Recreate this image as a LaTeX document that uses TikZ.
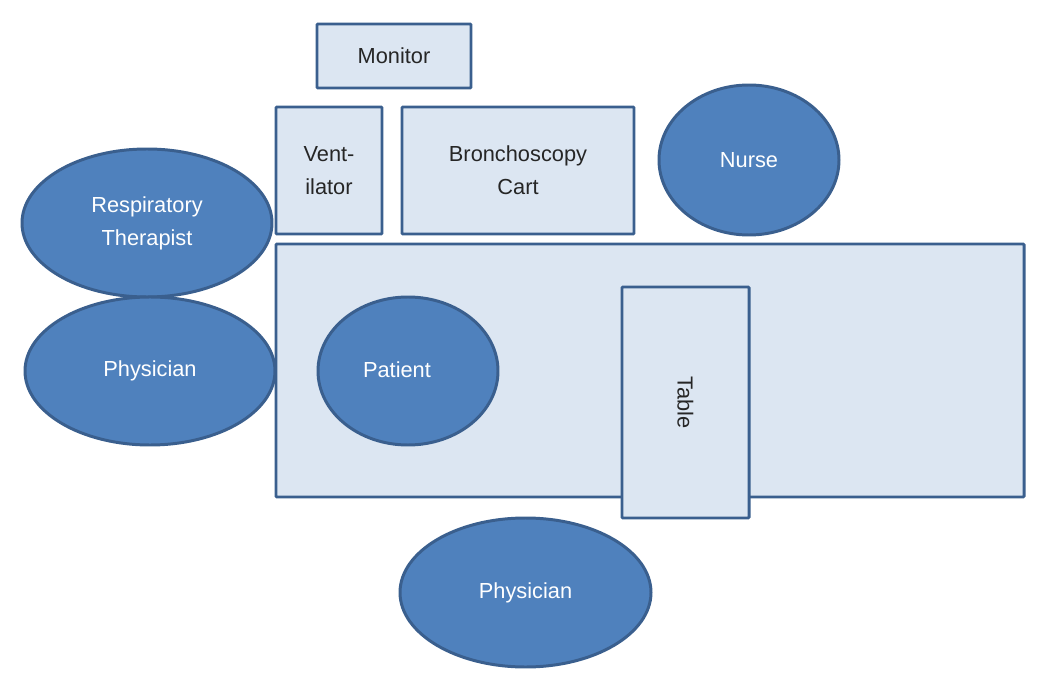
\documentclass[tikz,border=0pt]{standalone}
\usepackage{fontspec}
\setmainfont{Liberation Sans}
\usepackage{xcolor}
\usetikzlibrary{shapes,positioning}

\definecolor{itemfill}{HTML}{DCE6F2}
\definecolor{itemline}{HTML}{3A5F8E}
\definecolor{staff}{HTML}{4F81BD}

\begin{document}
\begin{tikzpicture}[
    item/.style={rectangle, rounded corners=0.5pt, draw=itemline, line width=1.7pt, fill=itemfill, inner sep=0pt, align=center, text=black!85, font=\fontsize{12.4}{18.7}\selectfont},
    person/.style={ellipse, draw=itemline, line width=1.7pt, fill=staff, inner sep=0pt, align=center, text=white, font=\fontsize{12.4}{18.7}\selectfont}
]
    \useasboundingbox (0,0) rectangle (20.92,-13.8);
    % room items
    \node[item, minimum width=3.08cm, minimum height=1.28cm] (monitor) at (7.88,-1.12) {Monitor};
    \node[item, minimum width=2.12cm, minimum height=2.54cm] (vent) at (6.58,-3.41) {Vent-\\ilator};
    \node[item, minimum width=4.64cm, minimum height=2.54cm] (cart) at (10.36,-3.41) {Bronchoscopy\\Cart};
    \node[item, minimum width=14.96cm, minimum height=5.06cm] (bed) at (13.0,-7.41) {};
    \node[item, minimum width=2.54cm, minimum height=4.62cm] (table) at (13.71,-8.05) {};
    \node[rotate=-90, text=black!85, font=\fontsize{12.4}{18.7}\selectfont] (tablelabel) at (table.center) {Table};
    % people
    \node[person, minimum width=3.6cm, minimum height=3.0cm] (nurse) at (14.98,-3.2) {Nurse};
    \node[person, minimum width=5.0cm, minimum height=2.96cm] (therapist) at (2.94,-4.46) {Respiratory\\Therapist};
    \node[person, minimum width=5.0cm, minimum height=2.96cm] (physleft) at (3.0,-7.42) {Physician};
    \node[person, minimum width=3.6cm, minimum height=2.96cm] (patient) at (8.16,-7.42) {};
    \node[text=white, font=\fontsize{12.4}{18.7}\selectfont] (patientlabel) at (7.94,-7.4) {Patient};
    \node[person, minimum width=5.02cm, minimum height=2.98cm] (physbottom) at (10.51,-11.85) {Physician};
\end{tikzpicture}
\end{document}
